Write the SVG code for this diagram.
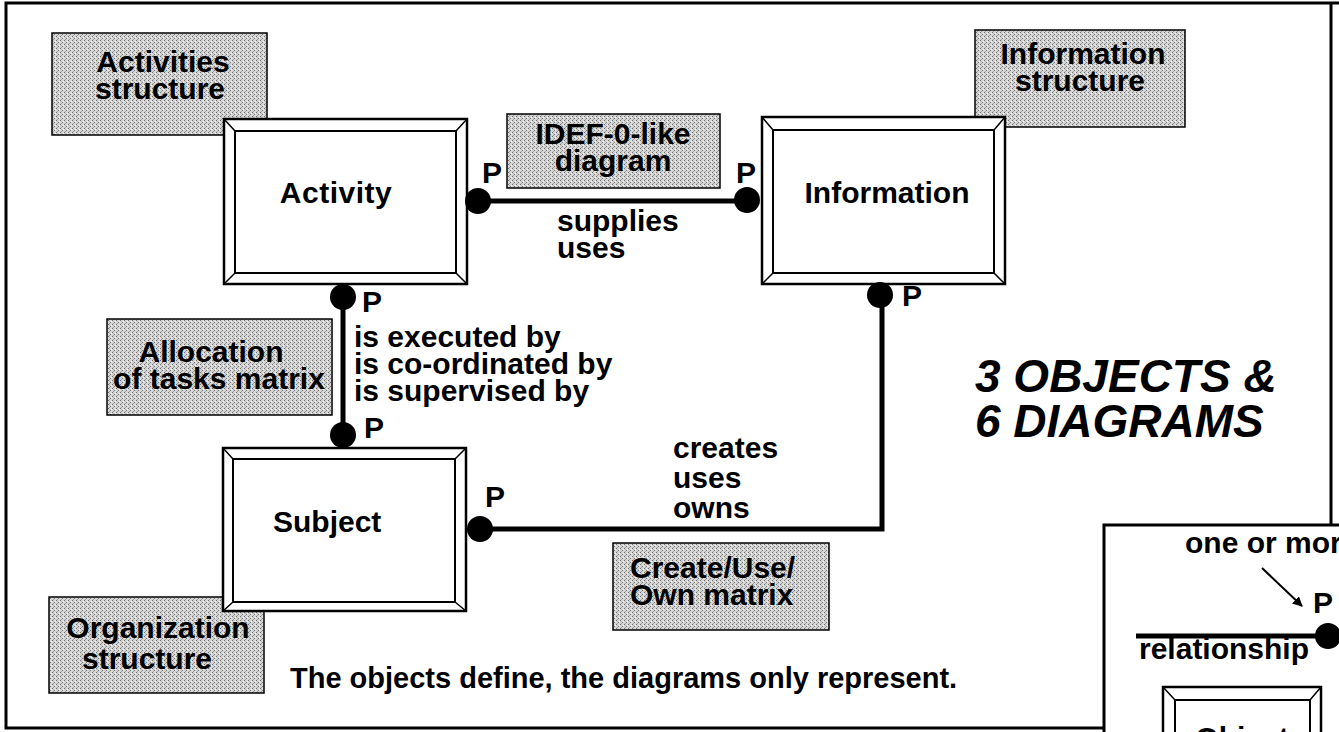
<svg xmlns="http://www.w3.org/2000/svg" width="1339" height="732" viewBox="0 0 1339 732">
  <defs>
    <!-- halftone grey used for the diagram-type labels -->
    <pattern id="stipple" width="4" height="4" patternUnits="userSpaceOnUse">
      <rect width="4" height="4" fill="#d6d6d6"/>
      <rect x="0" y="0" width="1" height="1" fill="#707070"/>
      <rect x="2" y="2" width="1" height="1" fill="#7e7e7e"/>
      <rect x="1" y="3" width="1" height="1" fill="#a0a0a0"/>
      <rect x="3" y="1" width="1" height="1" fill="#f6f6f6"/>
      <rect x="1" y="1" width="1" height="1" fill="#b8b8b8"/>
    </pattern>
    <marker id="arrow" viewBox="0 0 10 10" refX="9" refY="5" markerWidth="5" markerHeight="5" orient="auto">
      <path d="M0,0 L10,5 L0,10 Z" fill="#000"/>
    </marker>
    <style>
      text { font-family: "Liberation Sans", Arial, Helvetica, sans-serif; font-weight: bold; fill: #000; }
      .lbl { font-size: 30px; }
      .c { text-anchor: middle; }
      .grey { fill: url(#stipple); stroke: #000; stroke-width: 1.5; }
      .outer { fill: #fff; stroke: #000; stroke-width: 2.5; }
      .inner { fill: #fff; stroke: #000; stroke-width: 2; }
      .bevel { fill: none; stroke: #000; stroke-width: 1.5; }
      .rel { fill: none; stroke: #000; stroke-width: 5; }
      .dot { fill: #000; }
      .frame { fill: none; stroke: #000; stroke-width: 3; }
    </style>
  </defs>

  <rect width="1339" height="732" fill="#fff"/>

  <!-- page frame -->
  <path class="frame" d="M1104,728 H6 V3 H1339 M1331,3 V525"/>

  <!-- diagram-type labels (grey) -->
  <g id="activities-structure">
    <rect class="grey" x="52" y="33" width="215" height="102"/>
    <text class="lbl c" x="163" y="72">Activities</text>
    <text class="lbl c" x="160" y="99">structure</text>
  </g>
  <g id="idef-diagram">
    <rect class="grey" x="507" y="114" width="213" height="74"/>
    <text class="lbl c" x="613" y="144">IDEF-0-like</text>
    <text class="lbl c" x="613" y="171">diagram</text>
  </g>
  <g id="information-structure">
    <rect class="grey" x="975" y="30" width="210" height="97"/>
    <text class="lbl c" x="1083" y="64">Information</text>
    <text class="lbl c" x="1080" y="91">structure</text>
  </g>
  <g id="allocation-matrix">
    <rect class="grey" x="107" y="319" width="225" height="96"/>
    <text class="lbl c" x="211" y="362">Allocation</text>
    <text class="lbl c" x="219" y="389">of tasks matrix</text>
  </g>
  <g id="create-use-own-matrix">
    <rect class="grey" x="613" y="543" width="216" height="87"/>
    <text class="lbl" x="630" y="578">Create/Use/</text>
    <text class="lbl" x="630" y="605">Own matrix</text>
  </g>
  <g id="organization-structure">
    <rect class="grey" x="49" y="597" width="215" height="96"/>
    <text class="lbl c" x="158" y="638">Organization</text>
    <text class="lbl c" x="147" y="669">structure</text>
  </g>

  <!-- object boxes -->
  <g id="activity">
    <rect class="outer" x="224" y="119" width="243" height="165"/>
    <rect class="inner" x="235" y="131" width="221" height="142"/>
    <path class="bevel" d="M224,119 L235,131 M467,119 L456,131 M224,284 L235,273 M467,284 L456,273"/>
    <text class="lbl c" x="336" y="203" letter-spacing="0.5">Activity</text>
  </g>
  <g id="information">
    <rect class="outer" x="762" y="117" width="243" height="167"/>
    <rect class="inner" x="773" y="130" width="221" height="143"/>
    <path class="bevel" d="M762,117 L773,130 M1005,117 L994,130 M762,284 L773,273 M1005,284 L994,273"/>
    <text class="lbl c" x="887" y="203">Information</text>
  </g>
  <g id="subject">
    <rect class="outer" x="223" y="448" width="243" height="163"/>
    <rect class="inner" x="233" y="459" width="222" height="143"/>
    <path class="bevel" d="M223,448 L233,459 M466,448 L455,459 M223,611 L233,602 M466,611 L455,602"/>
    <text class="lbl" x="273" y="532">Subject</text>
  </g>

  <!-- relationships -->
  <g id="connectors">
    <line class="rel" x1="478" y1="201" x2="747" y2="201"/>
    <circle class="dot" cx="478" cy="201" r="13"/>
    <circle class="dot" cx="747" cy="200" r="13"/>

    <line class="rel" x1="343" y1="297" x2="343" y2="435"/>
    <circle class="dot" cx="343" cy="297" r="13"/>
    <circle class="dot" cx="343" cy="435" r="13"/>

    <path class="rel" d="M480,529 H882 V295"/>
    <circle class="dot" cx="880" cy="295" r="13"/>
    <circle class="dot" cx="480" cy="529" r="13"/>
  </g>

  <g id="relationship-labels">
    <text class="lbl" x="482" y="183">P</text>
    <text class="lbl" x="736" y="183">P</text>
    <text class="lbl" x="557" y="231">supplies</text>
    <text class="lbl" x="557" y="258">uses</text>

    <text class="lbl" x="362" y="312">P</text>
    <text class="lbl" x="364" y="438">P</text>
    <text class="lbl" x="354" y="347">is executed by</text>
    <text class="lbl" x="354" y="374">is co-ordinated by</text>
    <text class="lbl" x="354" y="401">is supervised by</text>

    <text class="lbl" x="902" y="306">P</text>
    <text class="lbl" x="485" y="507">P</text>
    <text class="lbl" x="673" y="458">creates</text>
    <text class="lbl" x="673" y="488">uses</text>
    <text class="lbl" x="673" y="518">owns</text>
  </g>

  <!-- headline and footnote -->
  <g id="headline">
    <text x="975" y="392" font-size="46" font-style="italic">3 OBJECTS &amp;</text>
    <text x="975" y="437" font-size="46" font-style="italic">6 DIAGRAMS</text>
  </g>
  <text id="footnote" x="290" y="688" font-size="29">The objects define, the diagrams only represent.</text>

  <!-- legend -->
  <g id="legend">
    <rect class="frame" x="1104" y="525" width="260" height="240" fill="#fff"/>
    <text class="lbl" x="1185" y="553">one or mor</text>
    <line x1="1262" y1="568" x2="1302" y2="606" stroke="#000" stroke-width="2" marker-end="url(#arrow)"/>
    <text class="lbl" x="1313" y="613">P</text>
    <line class="rel" x1="1136" y1="636" x2="1328" y2="636"/>
    <circle class="dot" cx="1328" cy="636" r="13"/>
    <text class="lbl" x="1139" y="659">relationship</text>
    <g id="legend-object">
      <rect class="outer" x="1163" y="687" width="158" height="80"/>
      <rect class="inner" x="1175" y="700" width="135" height="67"/>
      <path class="bevel" d="M1163,687 L1175,700 M1321,687 L1310,700"/>
      <text class="lbl c" x="1242" y="748">Object</text>
    </g>
  </g>
</svg>
